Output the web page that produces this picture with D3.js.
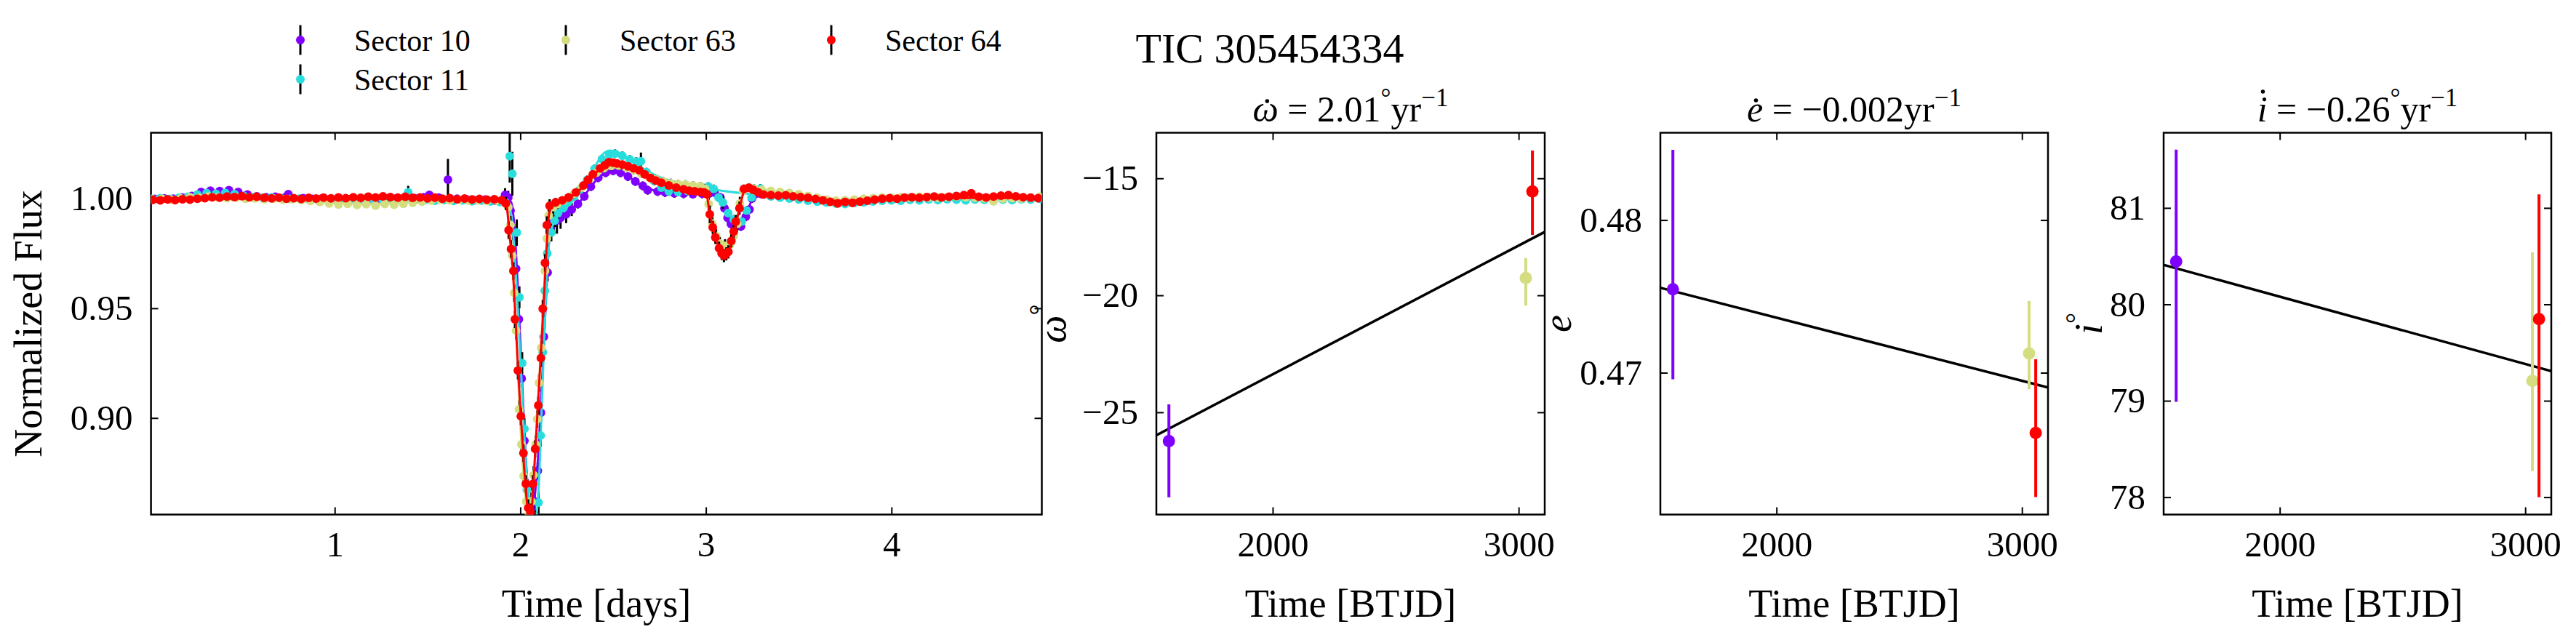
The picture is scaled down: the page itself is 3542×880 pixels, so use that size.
<!DOCTYPE html>
<html>
<head>
<meta charset="utf-8">
<script src="https://cdn.jsdelivr.net/npm/d3@7"></script>
<style>
  body { margin: 0; background: #fff; }
  text { font-family: "Liberation Serif", "DejaVu Serif", serif; fill: #000; }
</style>
</head>
<body>
<svg id="fig" width="3542" height="880"></svg>
<script>
"use strict";

// ---- values ----
var sectorNames = ["Sector 10", "Sector 11", "Sector 63", "Sector 64"];
var sectorColors = ["#8000ff", "#2adddd", "#d4dd80", "#ff0000"];

// phase folded light curves: [time (days), normalized flux, error]
var lc10 = [
  [0.03,0.9998,0.0012],[0.08,1.0001,0.0012],[0.13,0.9999,0.0012],[0.18,1.0004,0.0012],[0.23,1.0012,0.0012],
  [0.28,1.0030,0.0012],[0.33,1.0036,0.0012],[0.38,1.0034,0.0012],[0.43,1.0038,0.0012],[0.48,1.0030,0.0012],
  [0.53,1.0018,0.0012],[0.58,1.0010,0.0012],[0.63,1.0006,0.0012],[0.68,1.0008,0.0012],[0.73,1.0004,0.0012],
  [0.75,1.0020,0.0012],[0.83,1.0002,0.0012],[0.88,0.9998,0.0012],[0.93,1.0000,0.0012],[0.98,0.9996,0.0012],
  [1.03,0.9994,0.0012],[1.08,0.9997,0.0012],[1.13,0.9993,0.0012],[1.18,0.9996,0.0012],[1.23,0.9994,0.0012],
  [1.28,0.9998,0.0012],[1.33,1.0000,0.0012],[1.38,0.9997,0.0012],[1.43,1.0002,0.0012],[1.48,1.0006,0.0012],
  [1.51,1.0017,0.0012],[1.56,1.0004,0.0012],[1.61,1.0086,0.0095],[1.66,0.9999,0.0012],[1.71,0.9997,0.0012],
  [1.76,0.9993,0.0012],[1.81,0.9995,0.0012],[1.86,0.9990,0.0012],[1.90,0.9987,0.0012],[1.918,1.0017,0.003],
  [1.935,1.0005,0.003],[1.947,0.9945,0.003],[1.962,0.9850,0.004],[1.977,0.9680,0.004],[1.992,0.9450,0.004],
  [2.007,0.9180,0.004],[2.022,0.8896,0.004],[2.040,0.8680,0.004],[2.059,0.8576,0.004],[2.077,0.8620,0.004],
  [2.094,0.8760,0.004],[2.111,0.9024,0.004],[2.127,0.9370,0.004],[2.147,0.9663,0.004],[2.163,0.9868,0.004],
  [2.180,0.9895,0.005],[2.197,0.9900,0.006],[2.217,0.9912,0.005],[2.247,0.9928,0.004],[2.277,0.9950,0.003],
  [2.310,0.9975,0.002],[2.345,1.0010,0.002],[2.380,1.0055,0.002],[2.420,1.0095,0.002],[2.460,1.0118,0.002],
  [2.500,1.0127,0.002],[2.540,1.0118,0.002],[2.580,1.0100,0.002],[2.620,1.0078,0.002],[2.660,1.0058,0.002],
  [2.686,1.0038,0.002],[2.740,1.0032,0.002],[2.780,1.0028,0.002],[2.830,1.0024,0.002],[2.880,1.0022,0.002],
  [2.930,1.0020,0.002],[2.980,1.0022,0.002],[3.020,1.0024,0.002],[3.046,1.0028,0.002],[3.078,1.0005,0.002],
  [3.100,0.9956,0.002],[3.117,0.9912,0.002],[3.135,0.9884,0.002],[3.160,0.9876,0.002],[3.189,0.9873,0.002],
  [3.215,0.9917,0.002],[3.235,0.9950,0.002],[3.248,1.0000,0.002],[3.270,1.0022,0.002],[3.300,1.0020,0.0012],
  [3.35,1.0012,0.0012],[3.40,1.0008,0.0012],[3.45,1.0005,0.0012],[3.50,1.0003,0.0012],[3.55,0.9999,0.0012],
  [3.60,0.9996,0.0012],[3.65,0.9992,0.0012],[3.70,0.9988,0.0012],[3.75,0.9990,0.0012],[3.80,0.9992,0.0012],
  [3.85,0.9995,0.0012],[3.90,0.9997,0.0012],[3.95,1.0000,0.0012],[4.00,1.0002,0.0012],[4.05,1.0001,0.0012],
  [4.10,1.0004,0.0012],[4.15,1.0003,0.0012],[4.20,1.0005,0.0012],[4.25,1.0002,0.0012],[4.30,1.0004,0.0012],
  [4.35,1.0006,0.0012],[4.40,1.0003,0.0012],[4.45,1.0005,0.0012],[4.50,1.0002,0.0012],[4.55,1.0004,0.0012],
  [4.60,1.0001,0.0012],[4.65,1.0003,0.0012],[4.70,1.0000,0.0012],[4.75,1.0002,0.0012],[4.80,1.0001,0.0012]
];
var lc11 = [
  [0.01,0.9999,0.0012],[0.06,1.0002,0.0012],[0.11,0.9998,0.0012],[0.16,1.0003,0.0012],[0.21,1.0008,0.0012],
  [0.26,1.0018,0.0012],[0.31,1.0025,0.0012],[0.36,1.0022,0.0012],[0.41,1.0026,0.0012],[0.46,1.0020,0.0012],
  [0.51,1.0012,0.0012],[0.56,1.0006,0.0012],[0.61,1.0003,0.0012],[0.66,1.0005,0.0012],[0.71,1.0001,0.0012],
  [0.76,0.9998,0.0012],[0.81,1.0000,0.0012],[0.86,0.9996,0.0012],[0.91,0.9993,0.0012],[0.96,0.9995,0.0012],
  [1.01,0.9991,0.0012],[1.06,0.9994,0.0012],[1.11,0.9990,0.0012],[1.16,0.9993,0.0012],[1.21,0.9995,0.0012],
  [1.26,0.9992,0.0012],[1.31,0.9996,0.0012],[1.35,0.9998,0.0012],[1.396,1.0028,0.003],[1.44,0.9997,0.0012],
  [1.49,0.9994,0.0012],[1.54,0.9990,0.0012],[1.59,0.9993,0.0012],[1.64,0.9989,0.0012],[1.69,0.9992,0.0012],
  [1.74,0.9988,0.0012],[1.79,0.9991,0.0012],[1.84,0.9987,0.0012],[1.89,0.9984,0.0012],[1.92,0.9982,0.0015],
  [1.943,1.0193,0.012],[1.957,1.0113,0.010],[1.981,0.9845,0.006],[1.995,0.9550,0.005],[2.010,0.9250,0.005],
  [2.022,0.8950,0.005],[2.035,0.8673,0.005],[2.050,0.8520,0.005],[2.065,0.8500,0.005],[2.082,0.8530,0.005],
  [2.098,0.8615,0.005],[2.110,0.8920,0.005],[2.121,0.9300,0.005],[2.132,0.9580,0.005],[2.145,0.9750,0.004],
  [2.167,0.9845,0.004],[2.185,0.9900,0.003],[2.203,0.9934,0.003],[2.230,0.9955,0.002],[2.260,0.9985,0.002],
  [2.290,1.0010,0.002],[2.320,1.0040,0.002],[2.360,1.0085,0.002],[2.400,1.0135,0.002],[2.440,1.0180,0.002],
  [2.480,1.0200,0.002],[2.510,1.0205,0.002],[2.550,1.0195,0.002],[2.590,1.0178,0.002],[2.625,1.0168,0.002],
  [2.650,1.0170,0.004],[2.680,1.0120,0.002],[2.720,1.0080,0.002],[2.760,1.0050,0.002],[2.800,1.0033,0.002],
  [2.850,1.0030,0.002],[2.900,1.0035,0.002],[2.950,1.0040,0.002],[2.985,1.0048,0.002],[3.013,1.0055,0.002],
  [3.042,1.0044,0.002],[3.068,1.0005,0.002],[3.091,0.9983,0.003],[3.120,0.9934,0.002],[3.150,0.9905,0.002],
  [3.170,0.9890,0.002],[3.193,0.9895,0.002],[3.219,0.9945,0.002],[3.246,1.0005,0.002],[3.294,1.0046,0.002],
  [3.35,1.0010,0.0012],[3.40,1.0004,0.0012],[3.45,1.0000,0.0012],[3.50,0.9996,0.0012],[3.55,0.9990,0.0012],
  [3.60,0.9986,0.0012],[3.65,0.9982,0.0012],[3.70,0.9978,0.0012],[3.75,0.9975,0.0012],[3.80,0.9980,0.0012],
  [3.85,0.9983,0.0012],[3.90,0.9987,0.0012],[3.95,0.9990,0.0012],[4.00,0.9992,0.0012],[4.05,0.9990,0.0012],
  [4.10,0.9994,0.0012],[4.15,0.9992,0.0012],[4.20,0.9996,0.0012],[4.25,0.9993,0.0012],[4.30,0.9997,0.0012],
  [4.35,0.9995,0.0012],[4.40,0.9992,0.0012],[4.45,0.9996,0.0012],[4.50,0.9994,0.0012],[4.55,0.9990,0.0012],
  [4.60,0.9995,0.0012],[4.65,0.9993,0.0012],[4.70,0.9997,0.0012],[4.75,0.9995,0.0012],[4.80,0.9998,0.0012]
];
var lc63 = [
  [0.02,0.9996,0.0012],[0.07,0.9999,0.0012],[0.12,0.9995,0.0012],[0.17,1.0001,0.0012],[0.22,1.0006,0.0012],
  [0.27,1.0003,0.0012],[0.32,1.0009,0.0012],[0.37,1.0005,0.0012],[0.42,1.0002,0.0012],[0.47,1.0004,0.0012],
  [0.52,0.9999,0.0012],[0.57,1.0001,0.0012],[0.62,0.9997,0.0012],[0.67,0.9999,0.0012],[0.72,0.9995,0.0012],
  [0.77,0.9997,0.0012],[0.82,0.9993,0.0012],[0.87,0.9989,0.0012],[0.92,0.9984,0.0012],[0.97,0.9978,0.0012],
  [1.02,0.9973,0.0012],[1.07,0.9976,0.0012],[1.12,0.9971,0.0012],[1.17,0.9974,0.0012],[1.22,0.9968,0.0012],
  [1.27,0.9975,0.0012],[1.32,0.9972,0.0012],[1.37,0.9976,0.0012],[1.42,0.9981,0.0012],[1.47,0.9986,0.0012],
  [1.52,0.9991,0.0012],[1.57,0.9994,0.0012],[1.62,0.9992,0.0012],[1.67,0.9995,0.0012],[1.72,0.9991,0.0012],
  [1.77,0.9993,0.0012],[1.82,0.9989,0.0012],[1.87,0.9991,0.0012],[1.91,0.9987,0.0012],
  [1.935,0.9960,0.003],[1.947,0.9880,0.004],[1.957,0.9740,0.004],[1.967,0.9570,0.004],[1.977,0.9398,0.004],
  [1.993,0.9040,0.004],[2.006,0.8880,0.004],[2.018,0.8736,0.004],[2.032,0.8620,0.004],[2.047,0.8560,0.004],
  [2.060,0.8620,0.004],[2.072,0.8740,0.004],[2.083,0.8880,0.004],[2.091,0.8995,0.004],[2.101,0.9160,0.004],
  [2.113,0.9320,0.004],[2.123,0.9500,0.004],[2.133,0.9670,0.004],[2.143,0.9818,0.004],[2.153,0.9923,0.003],
  [2.177,0.9961,0.003],[2.200,0.9975,0.002],[2.230,0.9990,0.002],[2.260,1.0005,0.002],[2.290,1.0022,0.002],
  [2.330,1.0050,0.002],[2.370,1.0088,0.002],[2.410,1.0118,0.002],[2.450,1.0138,0.002],[2.490,1.0148,0.002],
  [2.530,1.0150,0.002],[2.570,1.0142,0.002],[2.610,1.0130,0.002],[2.650,1.0115,0.002],[2.690,1.0100,0.002],
  [2.730,1.0088,0.002],[2.770,1.0078,0.002],[2.810,1.0070,0.002],[2.850,1.0066,0.002],[2.890,1.0064,0.002],
  [2.930,1.0060,0.002],[2.970,1.0056,0.002],[2.995,1.0045,0.002],[3.015,0.9975,0.003],[3.035,0.9885,0.003],
  [3.055,0.9830,0.003],[3.075,0.9795,0.003],[3.103,0.9785,0.003],[3.130,0.9790,0.003],[3.150,0.9830,0.003],
  [3.169,0.9884,0.003],[3.183,0.9978,0.003],[3.200,1.0035,0.002],[3.230,1.0050,0.002],[3.260,1.0045,0.002],
  [3.300,1.0040,0.0012],[3.35,1.0035,0.0012],[3.40,1.0030,0.0012],[3.45,1.0026,0.0012],[3.50,1.0020,0.0012],
  [3.55,1.0012,0.0012],[3.60,1.0003,0.0012],[3.65,0.9995,0.0012],[3.70,0.9990,0.0012],[3.75,0.9992,0.0012],
  [3.80,0.9995,0.0012],[3.85,0.9999,0.0012],[3.90,1.0002,0.0012],[3.95,1.0005,0.0012],[4.00,1.0003,0.0012],
  [4.05,1.0006,0.0012],[4.10,1.0004,0.0012],[4.15,1.0008,0.0012],[4.20,1.0005,0.0012],[4.25,1.0003,0.0012],
  [4.30,1.0007,0.0012],[4.35,1.0010,0.0012],[4.40,1.0006,0.0012],[4.45,1.0004,0.0012],[4.50,1.0001,0.0012],
  [4.55,0.9988,0.0012],[4.60,0.9999,0.0012],[4.65,1.0002,0.0012],[4.70,1.0000,0.0012],[4.75,1.0004,0.0012],
  [4.80,1.0008,0.0012]
];
var lc64 = [
  [0.02,0.9994,0.0012],[0.06,0.9992,0.0012],[0.10,0.9996,0.0012],[0.14,0.9993,0.0012],[0.18,0.9997,0.0012],
  [0.22,0.9995,0.0012],[0.26,0.9999,0.0012],[0.30,1.0002,0.0012],[0.34,1.0006,0.0012],[0.38,1.0004,0.0012],
  [0.42,1.0009,0.0012],[0.46,1.0007,0.0012],[0.50,1.0011,0.0012],[0.54,1.0006,0.0012],[0.58,1.0008,0.0012],
  [0.62,1.0003,0.0012],[0.66,1.0001,0.0012],[0.70,1.0004,0.0012],[0.74,0.9999,0.0012],[0.78,1.0002,0.0012],
  [0.82,0.9998,0.0012],[0.86,1.0003,0.0012],[0.90,1.0000,0.0012],[0.94,1.0004,0.0012],[0.98,1.0001,0.0012],
  [1.02,1.0005,0.0012],[1.06,1.0002,0.0012],[1.10,1.0006,0.0012],[1.14,1.0003,0.0012],[1.18,1.0008,0.0012],
  [1.22,1.0005,0.0012],[1.26,1.0010,0.0012],[1.30,1.0007,0.0012],[1.34,1.0004,0.0012],[1.38,1.0008,0.0012],
  [1.42,1.0003,0.0012],[1.46,1.0005,0.0012],[1.50,1.0001,0.0012],[1.54,1.0004,0.0012],[1.58,0.9999,0.0012],
  [1.62,1.0002,0.0012],[1.66,0.9997,0.0012],[1.70,1.0000,0.0012],[1.74,0.9996,0.0012],[1.78,0.9998,0.0012],
  [1.82,0.9995,0.0012],[1.86,0.9997,0.0012],[1.90,0.9993,0.0012],
  [1.922,0.9978,0.003],[1.937,0.9856,0.004],[1.950,0.9770,0.004],[1.963,0.9670,0.004],[1.971,0.9450,0.004],
  [1.987,0.9216,0.004],[2.003,0.9008,0.004],[2.017,0.8840,0.004],[2.030,0.8700,0.004],[2.043,0.8590,0.004],
  [2.055,0.8570,0.004],[2.068,0.8700,0.004],[2.080,0.8859,0.004],[2.097,0.9057,0.004],[2.111,0.9273,0.004],
  [2.121,0.9498,0.004],[2.133,0.9707,0.004],[2.143,0.9879,0.004],[2.158,0.9967,0.003],[2.190,0.9983,0.002],
  [2.226,0.9992,0.0015],[2.260,1.0005,0.0015],[2.300,1.0028,0.0015],[2.340,1.0060,0.0015],[2.365,1.0085,0.0015],
  [2.391,1.0110,0.0015],[2.430,1.0138,0.0015],[2.455,1.0152,0.0015],[2.477,1.0166,0.0015],[2.500,1.0163,0.0015],
  [2.521,1.0160,0.0015],[2.550,1.0155,0.0015],[2.581,1.0147,0.0015],[2.610,1.0138,0.0015],[2.641,1.0129,0.0015],
  [2.670,1.0110,0.0015],[2.701,1.0094,0.0015],[2.730,1.0082,0.0015],[2.760,1.0072,0.0015],[2.800,1.0060,0.0015],
  [2.840,1.0050,0.0015],[2.880,1.0042,0.0015],[2.910,1.0036,0.0015],[2.940,1.0033,0.0015],[2.970,1.0030,0.0015],
  [2.990,1.0028,0.0015],[3.005,1.0020,0.002],[3.021,0.9928,0.004],[3.037,0.9868,0.003],[3.051,0.9823,0.003],
  [3.071,0.9774,0.003],[3.085,0.9750,0.003],[3.097,0.9740,0.003],[3.110,0.9748,0.003],[3.121,0.9757,0.003],
  [3.137,0.9807,0.003],[3.150,0.9850,0.003],[3.161,0.9895,0.003],[3.181,0.9956,0.003],[3.205,1.0044,0.002],
  [3.232,1.0050,0.0015],[3.255,1.0040,0.0015],[3.281,1.0028,0.0015],
  [3.31,1.0018,0.0012],[3.35,1.0016,0.0012],[3.39,1.0013,0.0012],[3.43,1.0015,0.0012],[3.47,1.0010,0.0012],
  [3.51,1.0007,0.0012],[3.55,1.0003,0.0012],[3.59,0.9998,0.0012],[3.63,0.9992,0.0012],[3.67,0.9985,0.0012],
  [3.71,0.9978,0.0012],[3.75,0.9984,0.0012],[3.79,0.9980,0.0012],[3.83,0.9986,0.0012],[3.87,0.9990,0.0012],
  [3.91,0.9995,0.0012],[3.95,0.9999,0.0012],[3.99,1.0002,0.0012],[4.03,0.9999,0.0012],[4.07,1.0004,0.0012],
  [4.11,1.0006,0.0012],[4.15,1.0003,0.0012],[4.19,1.0007,0.0012],[4.23,1.0009,0.0012],[4.27,1.0005,0.0012],
  [4.31,1.0008,0.0012],[4.35,1.0012,0.0012],[4.39,1.0016,0.0012],[4.43,1.0024,0.0012],[4.47,1.0008,0.0012],
  [4.51,1.0005,0.0012],[4.55,1.0009,0.0012],[4.59,1.0013,0.0012],[4.63,1.0016,0.0012],[4.67,1.0010,0.0012],
  [4.71,1.0006,0.0012],[4.75,1.0004,0.0012],[4.79,1.0002,0.0012]
];

// model curves per sector: [time (days), flux]
var model10 = [
  [0.01,1.0002],[0.45,1.0018],[1.0,0.9998],[1.90,0.9998],[1.95,0.9985],[1.97,0.985],[1.985,0.962],[2.00,0.935],
  [2.02,0.898],[2.04,0.868],[2.06,0.856],[2.08,0.866],[2.10,0.888],[2.12,0.922],[2.14,0.957],[2.16,0.985],
  [2.18,0.9895],[2.25,0.9935],[2.32,0.9985],[2.40,1.0075],[2.48,1.0122],[2.55,1.0115],[2.65,1.0060],[2.75,1.0032],
  [2.90,1.0022],[3.04,1.0022],[3.08,1.0000],[3.12,0.9905],[3.17,0.9872],[3.21,0.9905],[3.25,0.9995],[3.30,1.0015],
  [3.70,0.9992],[4.20,1.0003],[4.81,1.0001]
];
var model11 = [
  [0.01,1.0000],[0.40,1.0018],[0.80,1.0000],[1.90,0.9985],[1.94,0.9970],[1.96,0.985],[1.98,0.960],[2.00,0.928],
  [2.02,0.895],[2.04,0.866],[2.06,0.850],[2.08,0.852],[2.10,0.870],[2.12,0.915],[2.14,0.960],[2.16,0.983],
  [2.19,0.9905],[2.25,0.9960],[2.32,1.0030],[2.381,1.0110],[2.441,1.0199],[2.481,1.0219],[2.531,1.0210],
  [2.601,1.0171],[2.681,1.0127],[2.781,1.0088],[2.881,1.0068],[3.021,1.0044],[3.221,1.0022],[3.40,1.0008],
  [3.70,0.9985],[4.20,0.9995],[4.81,0.9997]
];
var model63 = [
  [0.01,0.9997],[0.40,1.0004],[0.90,0.9988],[1.20,0.9974],[1.50,0.9990],[1.90,0.9990],[1.93,0.9970],[1.95,0.981],
  [1.97,0.953],[1.99,0.915],[2.01,0.882],[2.03,0.862],[2.047,0.855],[2.065,0.865],[2.08,0.884],[2.10,0.915],
  [2.12,0.947],[2.14,0.978],[2.155,0.993],[2.18,0.996],[2.25,0.9995],[2.33,1.0050],[2.41,1.0118],[2.50,1.0150],
  [2.57,1.0142],[2.69,1.0100],[2.81,1.0070],[2.97,1.0056],[3.00,1.0040],[3.03,0.9900],[3.07,0.9800],[3.11,0.9783],
  [3.15,0.9830],[3.18,0.9950],[3.21,1.0040],[3.25,1.0045],[3.40,1.0030],[3.60,1.0003],[3.75,0.9992],[4.00,1.0004],
  [4.81,1.0004]
];
var model64 = [
  [0.01,1.0000],[1.90,1.0000],[1.925,0.9975],[1.94,0.985],[1.96,0.967],[1.975,0.944],[1.99,0.919],[2.005,0.898],
  [2.02,0.878],[2.035,0.862],[2.05,0.852],[2.065,0.862],[2.08,0.884],[2.095,0.906],[2.11,0.928],[2.125,0.951],
  [2.14,0.975],[2.155,0.993],[2.17,0.9965],[2.22,0.9985],[2.28,1.0012],[2.34,1.0055],[2.40,1.0110],[2.45,1.0150],
  [2.50,1.0163],[2.55,1.0158],[2.62,1.0135],[2.70,1.0098],[2.78,1.0066],[2.86,1.0046],[2.94,1.0035],[3.00,1.0028],
  [3.02,0.9935],[3.05,0.9825],[3.08,0.9765],[3.10,0.9745],[3.12,0.9755],[3.15,0.9840],[3.18,0.9950],[3.21,1.0035],
  [3.25,1.0032],[3.35,1.0018],[3.50,1.0006],[3.70,0.9990],[3.90,0.9995],[4.20,1.0003],[4.81,1.0002]
];

var lcXTicks = [1, 2, 3, 4];
var lcYTicks = [0.90, 0.95, 1.00];

// fitted orbital elements per sector (sectors 10, 63, 64)
var fitSector = [0, 2, 3];
var fitTime = [1578, 3029, 3056];
var omegaVal = [-26.23, -19.26, -15.56];
var omegaLo = [2.40, 1.18, 1.86];
var omegaHi = [1.57, 0.85, 1.75];
var eccVal = [0.47547, 0.47126, 0.46606];
var eccLo = [0.00590, 0.00235, 0.00421];
var eccHi = [0.00913, 0.00344, 0.00482];
var incVal = [80.445, 79.206, 79.847];
var incLo = [1.455, 0.936, 1.847];
var incHi = [1.160, 1.334, 1.293];

// linear trends: [rate per year, value at trendRef]
var trendRef = 1527;
var omegaTrend = [2.01, -25.98];
var eccTrend = [-0.00151, 0.47556];
var incTrend = [-0.255, 80.41];

var omegaTicks = [-25, -20, -15];
var eccTicks = [0.47, 0.48];
var incTicks = [78, 79, 80, 81];
var timeTicks = [2000, 3000];

// ---- drawing ----
var svg = d3.select("#fig");
var TOP = 182.5, BOTTOM = 707.5;
var TICK_FS = 49, LABEL_FS = 54;

function frame(g, x, y, xt, yt, yfmt, id) {
  var x0 = x.range()[0], x1 = x.range()[1];
  function style(sel) {
    sel.select(".domain").remove();
    sel.selectAll(".tick line").attr("stroke", "#000").attr("stroke-width", 2);
    sel.selectAll(".tick text").attr("font-size", TICK_FS).attr("fill", "#000");
  }
  g.append("g").attr("transform", "translate(0," + BOTTOM + ")")
    .call(d3.axisBottom(x).tickValues(xt).tickFormat(d3.format("d")).tickSizeInner(-10).tickSizeOuter(0).tickPadding(23))
    .call(style);
  g.append("g").attr("transform", "translate(0," + TOP + ")")
    .call(d3.axisTop(x).tickValues(xt).tickFormat("").tickSizeInner(-10).tickSizeOuter(0))
    .call(style);
  g.append("g").attr("transform", "translate(" + x0 + ",0)")
    .call(d3.axisLeft(y).tickValues(yt).tickFormat(yfmt).tickSizeInner(-10).tickSizeOuter(0).tickPadding(25))
    .call(style);
  g.append("g").attr("transform", "translate(" + x1 + ",0)")
    .call(d3.axisRight(y).tickValues(yt).tickFormat("").tickSizeInner(-10).tickSizeOuter(0))
    .call(style);
  g.append("rect").attr("x", x0).attr("y", TOP).attr("width", x1 - x0).attr("height", BOTTOM - TOP)
    .attr("fill", "none").attr("stroke", "#000").attr("stroke-width", 2.5);

  svg.append("clipPath").attr("id", id).append("rect")
    .attr("x", x0).attr("y", TOP).attr("width", x1 - x0).attr("height", BOTTOM - TOP);
}

// little math helper: parts are {s, it, sup}
function mathText(g, x, y, size, parts, dotOver) {
  var t = g.append("text").attr("x", x).attr("y", y).attr("font-size", size).attr("text-anchor", "middle");
  var up = false;
  parts.forEach(function (p) {
    var s = t.append("tspan").text(p.s);
    if (p.it) s.attr("font-style", "italic");
    if (p.sup && !up) { s.attr("font-size", size * 0.7).attr("dy", -size * 0.42); up = true; }
    else if (p.sup) { s.attr("font-size", size * 0.7); }
    else if (up) { s.attr("dy", size * 0.42); up = false; }
  });
  if (dotOver) {
    var ext = t.node().getExtentOfChar(0);
    g.append("circle").attr("cx", ext.x + ext.width * 0.56).attr("cy", y - size * dotOver).attr("r", size * 0.055)
      .attr("fill", "#000");
  }
  return t;
}

// ---- light curve panel ----
var xLc = d3.scaleLinear().domain([0.01, 4.81]).range([207.6, 1432.5]);
var yLc = d3.scaleLinear().domain([0.856, 1.030]).range([BOTTOM, TOP]);
var gLc = svg.append("g");
frame(gLc, xLc, yLc, lcXTicks, lcYTicks, d3.format(".2f"), "clipLc");

var lcData = [lc10, lc11, lc63, lc64];
var lcModels = [model10, model11, model63, model64];
var lcPlot = gLc.append("g").attr("clip-path", "url(#clipLc)");
var modelLine = d3.line().x(function (d) { return xLc(d[0]); }).y(function (d) { return yLc(d[1]); })
  .curve(d3.curveMonotoneX);

lcData.forEach(function (series, k) {
  var s = lcPlot.append("g");
  s.selectAll("line.err").data(series).enter().append("line")
    .attr("x1", function (d) { return xLc(d[0]); }).attr("x2", function (d) { return xLc(d[0]); })
    .attr("y1", function (d) { return yLc(d[1] + d[2]); }).attr("y2", function (d) { return yLc(d[1] - d[2]); })
    .attr("stroke", "#000").attr("stroke-width", 3);
  s.append("path").datum(lcModels[k]).attr("d", modelLine)
    .attr("fill", "none").attr("stroke", sectorColors[k]).attr("stroke-width", 3);
  s.selectAll("circle").data(series).enter().append("circle")
    .attr("cx", function (d) { return xLc(d[0]); }).attr("cy", function (d) { return yLc(d[1]); })
    .attr("r", 6).attr("fill", sectorColors[k]);
});

gLc.append("text").attr("x", 820).attr("y", 848).attr("text-anchor", "middle")
  .attr("font-size", LABEL_FS).text("Time [days]");
gLc.append("text").attr("transform", "translate(57,445) rotate(-90)").attr("text-anchor", "middle")
  .attr("font-size", LABEL_FS).text("Normalized Flux");

// legend (3 columns, filled column by column)
var legendX = [413, 413, 778, 1143];
var legendY = [55, 109, 55, 55];
sectorNames.forEach(function (name, k) {
  var g = svg.append("g").attr("transform", "translate(" + legendX[k] + "," + legendY[k] + ")");
  g.append("line").attr("x1", 0).attr("x2", 0).attr("y1", -20.5).attr("y2", 20.5)
    .attr("stroke", "#000").attr("stroke-width", 3);
  g.append("circle").attr("r", 6).attr("fill", sectorColors[k]);
  g.append("text").attr("x", 74).attr("y", 15).attr("font-size", 42).text(name);
});

svg.append("text").attr("x", 1746).attr("y", 86).attr("text-anchor", "middle")
  .attr("font-size", 58).text("TIC 305454334");

// ---- orbital element panels ----
var panels = [
  { left: 1590, right: 2124, dom: [-29.37, -13.05], ticks: omegaTicks, fmt: d3.format("d"),
    val: omegaVal, lo: omegaLo, hi: omegaHi, trend: omegaTrend,
    title: [{s: "\u03c9", it: true}, {s: " = 2.01"}, {s: "\u00b0", sup: true}, {s: "yr"}, {s: "\u22121", sup: true}],
    dot: 0.56, ylab: [{s: "\u03c9", it: true}, {s: "\u00b0", sup: true}], ylabX: 1465 },
  { left: 2283, right: 2816, dom: [0.46071, 0.48572], ticks: eccTicks, fmt: d3.format(".2f"),
    val: eccVal, lo: eccLo, hi: eccHi, trend: eccTrend,
    title: [{s: "e", it: true}, {s: " = \u22120.002yr"}, {s: "\u22121", sup: true}],
    dot: 0.58, ylab: [{s: "e", it: true}], ylabX: 2160 },
  { left: 2975, right: 3508, dom: [77.82, 81.78], ticks: incTicks, fmt: d3.format("d"),
    val: incVal, lo: incLo, hi: incHi, trend: incTrend,
    title: [{s: "i", it: true}, {s: " = \u22120.26"}, {s: "\u00b0", sup: true}, {s: "yr"}, {s: "\u22121", sup: true}],
    dot: 0.82, ylab: [{s: "i", it: true}, {s: "\u00b0", sup: true}], ylabX: 2890 }
];

panels.forEach(function (p, n) {
  var x = d3.scaleLinear().domain([1527, 3106]).range([p.left, p.right]);
  var y = d3.scaleLinear().domain(p.dom).range([BOTTOM, TOP]);
  var g = svg.append("g");
  var id = "clipP" + n;
  frame(g, x, y, timeTicks, p.ticks, p.fmt, id);
  var plot = g.append("g").attr("clip-path", "url(#" + id + ")");

  var t0 = x.domain()[0], t1 = x.domain()[1];
  function trendAt(t) { return p.trend[1] + p.trend[0] * (t - trendRef) / 365.25; }
  plot.append("line").attr("x1", x(t0)).attr("x2", x(t1))
    .attr("y1", y(trendAt(t0))).attr("y2", y(trendAt(t1)))
    .attr("stroke", "#000").attr("stroke-width", 3.5);

  p.val.forEach(function (v, k) {
    var c = sectorColors[fitSector[k]];
    plot.append("line").attr("x1", x(fitTime[k])).attr("x2", x(fitTime[k]))
      .attr("y1", y(v + p.hi[k])).attr("y2", y(v - p.lo[k]))
      .attr("stroke", c).attr("stroke-width", 4);
    plot.append("circle").attr("cx", x(fitTime[k])).attr("cy", y(v)).attr("r", 8.5).attr("fill", c);
  });

  var cx = (p.left + p.right) / 2;
  mathText(g, cx, 167, 50, p.title, p.dot);
  g.append("text").attr("x", cx).attr("y", 848).attr("text-anchor", "middle")
    .attr("font-size", LABEL_FS).text("Time [BTJD]");

  var yl = g.append("g").attr("transform", "translate(" + p.ylabX + ",445) rotate(-90)");
  mathText(yl, 0, 0, LABEL_FS, p.ylab, 0);
});
</script>
</body>
</html>
